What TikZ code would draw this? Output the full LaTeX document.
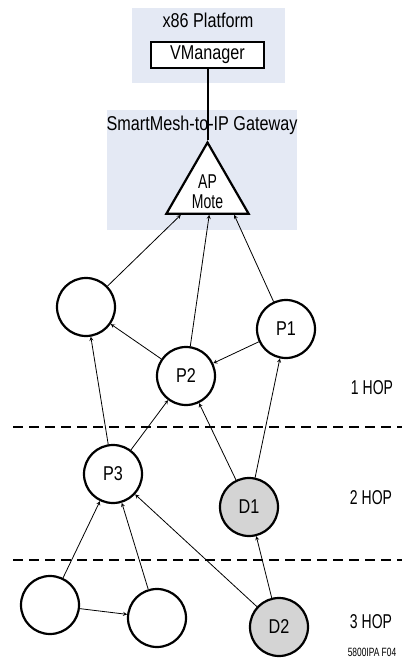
\documentclass[tikz,border=0pt]{standalone}
\usepackage{fontspec}
\setmainfont{Liberation Sans}[FakeStretch=0.81]
\newfontfamily\narrowfont{Liberation Sans}[FakeStretch=0.7]
\usetikzlibrary{shapes.geometric,calc}

\definecolor{panelblue}{RGB}{228,233,244}
\definecolor{motegray}{RGB}{212,212,212}

\tikzstyle{mote} = [circle, minimum size=58pt, inner sep=0pt, draw=black, line width=2.2pt, fill=white, font=\fontsize{20}{20}\selectfont]
\tikzstyle{dmote} = [mote, fill=motegray]
\tikzstyle{box} = [rectangle, minimum width=113pt, minimum height=26pt, inner sep=0pt, draw=black, line width=2.2pt, fill=white, font=\fontsize{20}{20}\selectfont]
\tikzstyle{label} = [font=\fontsize{20}{20}\selectfont]
\tikzstyle{hop} = [font=\narrowfont\fontsize{20}{22}\selectfont]
\tikzstyle{aplabel} = [font=\narrowfont\fontsize{20}{20}\selectfont, inner sep=0pt, align=center]
\tikzstyle{arrow} = [line width=0.8pt,->,>=stealth]
\tikzstyle{hopline} = [line width=1.3pt, dash pattern=on 10pt off 6pt]

\begin{document}
\begin{tikzpicture}[x=1pt, y=-1pt]
			\useasboundingbox (0,0) rectangle (402,661);

			% panels
			\fill [panelblue] (132,8) rectangle (285,83);
			\fill [panelblue] (107,110) rectangle (297,230);
			\node (x86) [label] at (208,20) {x86 Platform};
			\node (gw) [label] at (202,125) {SmartMesh-to-IP Gateway};

			\node (vm) [box] at (207.5,55) {VManager};
			\node (ap) [regular polygon, regular polygon sides=3, minimum size=95pt, inner sep=0pt, draw=black, line width=2.2pt, fill=white] at (207.5,190) {};
			\node (aptext) [aplabel] at (207.5,191.5) {AP\\Mote};
			\coordinate (apl) at ($(ap.corner 2)!0.19!(ap.corner 3)$);
			\coordinate (apm) at ($(ap.corner 2)!0.52!(ap.corner 3)$);
			\coordinate (apr) at ($(ap.corner 2)!0.81!(ap.corner 3)$);
			\draw [line width=2pt] (vm) -- (ap.corner 1);

			% motes
			\node (m0) [mote] at (86,307) {};
			\node (p1) [mote] at (286,329) {P1};
			\node (p2) [mote] at (186,376) {P2};
			\node (p3) [mote] at (113,474) {P3};
			\node (d1) [dmote] at (249,507) {D1};
			\node (m1) [mote] at (50,605) {};
			\node (m2) [mote] at (157,618) {};
			\node (d2) [dmote] at (279,627) {D2};

			% hops
			\coordinate (h1a) at (13,427);
			\coordinate (h1b) at (402,427);
			\coordinate (h2a) at (13,560);
			\coordinate (h2b) at (402,560);
			\draw [hopline] (h1a) -- (h1b);
			\draw [hopline] (h2a) -- (h2b);
			\node (hop1) [hop] at (372,388) {1 HOP};
			\node (hop2) [hop] at (371,498) {2 HOP};
			\node (hop3) [hop] at (371,622) {3 HOP};
			\node (fig) [font=\narrowfont\fontsize{12}{12}\selectfont] at (372,652) {5800IPA F04};

			\draw [arrow] (m0) -- (apl);
			\draw [arrow] (p2) -- (apm);
			\draw [arrow] (p1) -- (apr);
			\draw [arrow] (p2) -- (m0);
			\draw [arrow] (p1) -- (p2);
			\draw [arrow] (p3) -- (m0);
			\draw [arrow] (p3) -- (p2);
			\draw [arrow] (d1) -- (p2);
			\draw [arrow] (d1) -- (p1);
			\draw [arrow] (m1) -- (p3);
			\draw [arrow] (m2) -- (p3);
			\draw [arrow] (d2) -- (p3);
			\draw [arrow] (d2) -- (d1);
			\draw [arrow] (m1) -- (m2);
		\end{tikzpicture}
\end{document}
